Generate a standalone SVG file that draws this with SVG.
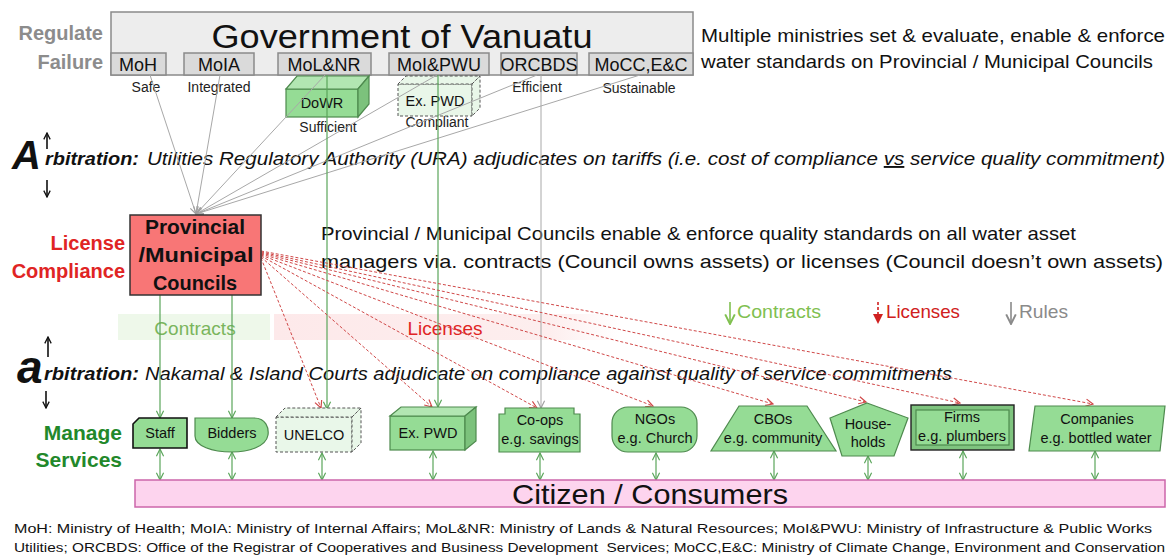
<svg xmlns="http://www.w3.org/2000/svg" width="1174" height="560" viewBox="0 0 1174 560">
<defs>
<style>
text{font-family:'Liberation Sans',Arial,sans-serif;fill:#111}
.gov{fill:#ededed;stroke:#8a8a8a;stroke-width:1.5}
.min{fill:#dadada;stroke:#8a8a8a;stroke-width:1.5}
.mt{font-size:18px;text-anchor:middle}
.lab{font-size:14px;fill:#222;text-anchor:middle}
.node{fill:#95dc95;stroke:#4e8a4e;stroke-width:1.2}
.nodel{fill:#e9f7e9;stroke:#555;stroke-width:1;stroke-dasharray:3 2}
.nt{font-size:14.5px;text-anchor:middle}
.grey{stroke:#a8a8a8;stroke-width:1;fill:none}
.green{stroke:#5aa55a;stroke-width:1.2;fill:none}
.red{stroke:#d04848;stroke-width:1;stroke-dasharray:3 2;fill:none}
.blk{stroke:#111;stroke-width:1.6;fill:none}
.body{font-size:19px}
</style>
<marker id="mg" viewBox="0 0 10 10" refX="9" refY="5" markerWidth="9" markerHeight="9" markerUnits="userSpaceOnUse" orient="auto-start-reverse"><path d="M1,1 L9,5 L1,9" fill="none" stroke="#5aa55a" stroke-width="1.3"/></marker>
<marker id="mgr" viewBox="0 0 10 10" refX="9" refY="5" markerWidth="9" markerHeight="9" markerUnits="userSpaceOnUse" orient="auto-start-reverse"><path d="M1,1 L9,5 L1,9" fill="none" stroke="#a0a0a0" stroke-width="1.3"/></marker>
<marker id="mr" viewBox="0 0 10 10" refX="9" refY="5" markerWidth="9" markerHeight="9" markerUnits="userSpaceOnUse" orient="auto-start-reverse"><path d="M1,1 L9,5 L1,9" fill="none" stroke="#d04848" stroke-width="1.3"/></marker>
<marker id="mk" viewBox="0 0 10 10" refX="9" refY="5" markerWidth="8" markerHeight="8" markerUnits="userSpaceOnUse" orient="auto-start-reverse"><path d="M1,1 L9,5 L1,9" fill="none" stroke="#111" stroke-width="1.6"/></marker>
<marker id="lg" viewBox="0 0 10 10" refX="9" refY="5" markerWidth="12" markerHeight="12" markerUnits="userSpaceOnUse" orient="auto"><path d="M1,1 L9,5 L1,9" fill="none" stroke="#80c050" stroke-width="1.6"/></marker>
<marker id="lgr" viewBox="0 0 10 10" refX="9" refY="5" markerWidth="12" markerHeight="12" markerUnits="userSpaceOnUse" orient="auto"><path d="M1,1 L9,5 L1,9" fill="none" stroke="#8a8a8a" stroke-width="1.6"/></marker>
<marker id="lr" viewBox="0 0 10 10" refX="8" refY="5" markerWidth="10" markerHeight="10" markerUnits="userSpaceOnUse" orient="auto"><path d="M0,0 L10,5 L0,10 Z" fill="#d02020"/></marker>
<linearGradient id="pinkfade" x1="0" x2="1" y1="0" y2="0"><stop offset="0" stop-color="#fde9ea"/><stop offset="0.8" stop-color="#fdeeee"/><stop offset="1" stop-color="#fdeeee" stop-opacity="0"/></linearGradient>
</defs>

<g id="side-labels">
<text x="103" y="40" font-size="20" font-weight="bold" text-anchor="end" style="fill:#8c8c8c">Regulate</text>
<text x="103" y="69" font-size="20" font-weight="bold" text-anchor="end" style="fill:#8c8c8c">Failure</text>
<text x="125" y="250" font-size="20" font-weight="bold" text-anchor="end" style="fill:#e02424">License</text>
<text x="125" y="278" font-size="20" font-weight="bold" text-anchor="end" style="fill:#e02424">Compliance</text>
<text x="122" y="440" font-size="21" font-weight="bold" text-anchor="end" style="fill:#22882a">Manage</text>
<text x="122" y="467" font-size="21" font-weight="bold" text-anchor="end" style="fill:#22882a">Services</text>
</g>

<g id="bands">
<rect x="118" y="314" width="152" height="26" fill="#eef8ea"/>
<rect x="274" y="314" width="345" height="26" fill="url(#pinkfade)"/>
<text x="195" y="335" font-size="19" text-anchor="middle" style="fill:#7ab55c">Contracts</text>
<text x="445" y="335" font-size="19" text-anchor="middle" style="fill:#e02424">Licenses</text>
</g>

<g id="government">
<rect class="gov" x="111" y="12" width="582" height="63"/>
<text x="402" y="48" font-size="33" text-anchor="middle" textLength="381" lengthAdjust="spacingAndGlyphs">Government of Vanuatu</text>
</g>
<g id="moh"><rect class="min" x="111" y="53" width="55" height="22"/><text class="mt" x="138" y="71">MoH</text></g>
<g id="moia"><rect class="min" x="184" y="53" width="70" height="22"/><text class="mt" x="219" y="71">MoIA</text></g>
<g id="molnr"><rect class="min" x="278" y="53" width="93" height="22"/><text class="mt" x="324" y="71">MoL&amp;NR</text></g>
<g id="moipwu"><rect class="min" x="389" y="53" width="100" height="22"/><text class="mt" x="439" y="71">MoI&amp;PWU</text></g>
<g id="orcbds"><rect class="min" x="501" y="53" width="76" height="22"/><text class="mt" x="539" y="71">ORCBDS</text></g>
<g id="mocc"><rect class="min" x="589" y="53" width="104" height="22"/><text class="mt" x="641" y="71">MoCC,E&amp;C</text></g>

<g id="ministry-labels">
<text class="lab" x="146" y="92">Safe</text>
<text class="lab" x="219" y="92">Integrated</text>
<text class="lab" x="328" y="132">Sufficient</text>
<text class="lab" x="437" y="127">Compliant</text>
<text class="lab" x="537" y="92">Efficient</text>
<text class="lab" x="639" y="93">Sustainable</text>
</g>

<g id="dowr">
<rect class="node" x="286" y="89" width="72" height="28"/>
<polygon class="node" points="286,89 297,76 369,76 358,89" style="fill:#b2e6b2"/>
<polygon class="node" points="358,89 369,76 369,104 358,117" style="fill:#7cc27c"/>
<text class="nt" x="322" y="108">DoWR</text>
</g>
<g id="expwd-top">
<rect class="nodel" x="398" y="84" width="74" height="32"/>
<polygon class="nodel" points="398,84 406,76 480,76 472,84"/>
<polygon class="nodel" points="472,84 480,76 480,108 472,116"/>
<text class="nt" x="435" y="106">Ex. PWD</text>
</g>

<g id="notes">
<text class="body" x="701" y="42" textLength="464" lengthAdjust="spacingAndGlyphs">Multiple ministries set &amp; evaluate, enable &amp; enforce</text>
<text class="body" x="701" y="68" textLength="452" lengthAdjust="spacingAndGlyphs">water standards on Provincial / Municipal Councils</text>
<text class="body" x="321" y="240" textLength="755" lengthAdjust="spacingAndGlyphs">Provincial / Municipal Councils enable &amp; enforce quality standards on all water asset</text>
<text class="body" x="321" y="268" textLength="842" lengthAdjust="spacingAndGlyphs">managers via. contracts (Council owns assets) or licenses (Council doesn’t own assets)</text>
</g>

<g id="arbitration-1">
<text x="12" y="169" font-size="40" font-weight="bold" font-style="italic">A</text>
<text x="45" y="165" font-size="19" font-weight="bold" font-style="italic" textLength="94" lengthAdjust="spacingAndGlyphs">rbitration:</text>
<text x="147" y="165" font-size="19" font-style="italic" textLength="1018" lengthAdjust="spacingAndGlyphs">Utilities Regulatory Authority (URA) adjudicates on tariffs (i.e. cost of compliance <tspan text-decoration="underline">vs</tspan> service quality commitment)</text>
<line class="blk" x1="47" y1="149" x2="47" y2="133" marker-end="url(#mk)"/>
<line class="blk" x1="47" y1="180" x2="47" y2="197" marker-end="url(#mk)"/>
</g>

<g id="arbitration-2">
<text x="17" y="383" font-size="46" font-weight="bold" font-style="italic">a</text>
<text x="44" y="380" font-size="19" font-weight="bold" font-style="italic" textLength="95" lengthAdjust="spacingAndGlyphs">rbitration:</text>
<text x="145" y="380" font-size="19" font-style="italic" textLength="807" lengthAdjust="spacingAndGlyphs">Nakamal &amp; Island Courts adjudicate on compliance against quality of service commitments</text>
<line class="blk" x1="48" y1="357" x2="48" y2="337" marker-end="url(#mk)"/>
<line class="blk" x1="46" y1="391" x2="46" y2="408" marker-end="url(#mk)"/>
</g>

<g id="legend">
<line x1="730" y1="302" x2="730" y2="324" stroke="#80c050" stroke-width="1.6" marker-end="url(#lg)"/>
<text x="737" y="318" font-size="19" textLength="84" lengthAdjust="spacingAndGlyphs" style="fill:#80c050">Contracts</text>
<line x1="878" y1="302" x2="878" y2="322" stroke="#d02020" stroke-width="1.6" stroke-dasharray="3 2" marker-end="url(#lr)"/>
<text x="886" y="318" font-size="19" textLength="74" lengthAdjust="spacingAndGlyphs" style="fill:#d02020">Licenses</text>
<line x1="1011" y1="302" x2="1011" y2="324" stroke="#8a8a8a" stroke-width="1.6" marker-end="url(#lgr)"/>
<text x="1019" y="318" font-size="19" textLength="49" lengthAdjust="spacingAndGlyphs" style="fill:#8a8a8a">Rules</text>
</g>

<g id="connectors">
<line class="grey" x1="150" y1="75" x2="196" y2="214" marker-end="url(#mgr)"/>
<line class="grey" x1="220" y1="75" x2="196" y2="214" marker-end="url(#mgr)"/>
<line class="grey" x1="325" y1="75" x2="196" y2="214" marker-end="url(#mgr)"/>
<line class="grey" x1="437" y1="75" x2="196" y2="214" marker-end="url(#mgr)"/>
<line class="grey" x1="537" y1="75" x2="196" y2="214" marker-end="url(#mgr)"/>
<line class="grey" x1="640" y1="75" x2="196" y2="214" marker-end="url(#mgr)"/>
<line class="green" x1="327" y1="75" x2="327" y2="409" marker-end="url(#mg)"/>
<line class="green" x1="438" y1="75" x2="438" y2="407" marker-end="url(#mg)"/>
<line class="grey" x1="541" y1="75" x2="541" y2="408" marker-end="url(#mgr)"/>
<line class="green" x1="160" y1="295" x2="160" y2="418" marker-end="url(#mg)"/>
<line class="green" x1="232" y1="295" x2="232" y2="418" marker-end="url(#mg)"/>
<line class="red" x1="261" y1="258" x2="321" y2="408" marker-end="url(#mr)"/>
<line class="red" x1="261" y1="257" x2="432" y2="407" marker-end="url(#mr)"/>
<line class="red" x1="261" y1="256" x2="537" y2="408" marker-end="url(#mr)"/>
<line class="red" x1="261" y1="255" x2="653" y2="406" marker-end="url(#mr)"/>
<line class="red" x1="261" y1="254" x2="773" y2="404" marker-end="url(#mr)"/>
<line class="red" x1="261" y1="253" x2="866" y2="402" marker-end="url(#mr)"/>
<line class="red" x1="261" y1="252" x2="960" y2="403" marker-end="url(#mr)"/>
<line class="red" x1="261" y1="251" x2="1093" y2="404" marker-end="url(#mr)"/>
<line class="green" x1="160" y1="449" x2="160" y2="480" marker-start="url(#mg)" marker-end="url(#mg)"/>
<line class="green" x1="232" y1="452" x2="232" y2="480" marker-start="url(#mg)" marker-end="url(#mg)"/>
<line class="green" x1="322" y1="453" x2="322" y2="480" marker-start="url(#mg)" marker-end="url(#mg)"/>
<line class="green" x1="433" y1="451" x2="433" y2="480" marker-start="url(#mg)" marker-end="url(#mg)"/>
<line class="green" x1="540" y1="453" x2="540" y2="480" marker-start="url(#mg)" marker-end="url(#mg)"/>
<line class="green" x1="656" y1="453" x2="656" y2="480" marker-start="url(#mg)" marker-end="url(#mg)"/>
<line class="green" x1="774" y1="451" x2="774" y2="480" marker-start="url(#mg)" marker-end="url(#mg)"/>
<line class="green" x1="868" y1="456" x2="868" y2="480" marker-start="url(#mg)" marker-end="url(#mg)"/>
<line class="green" x1="963" y1="451" x2="963" y2="480" marker-start="url(#mg)" marker-end="url(#mg)"/>
<line class="green" x1="1095" y1="451" x2="1095" y2="480" marker-start="url(#mg)" marker-end="url(#mg)"/>
</g>

<g id="council">
<rect x="130" y="215" width="131" height="80" fill="#f87676" stroke="#333" stroke-width="1.5"/>
<text x="195" y="234" font-size="20" font-weight="bold" text-anchor="middle" textLength="100" lengthAdjust="spacingAndGlyphs">Provincial</text>
<text x="196" y="262" font-size="20" font-weight="bold" text-anchor="middle" textLength="115" lengthAdjust="spacingAndGlyphs">/Municipal</text>
<text x="195" y="290" font-size="20" font-weight="bold" text-anchor="middle" textLength="84" lengthAdjust="spacingAndGlyphs">Councils</text>
</g>

<g id="staff"><polygon class="node" points="133,424 139,418 187,418 187,448 133,448" style="stroke:#111;stroke-width:1.6"/><text class="nt" x="160" y="438">Staff</text></g>
<g id="bidders"><path class="node" d="M195,418 H254 C266,418 269,428 268,435 C266,447 248,452 232,452 C212,452 195,446 195,436 Z"/><text class="nt" x="232" y="438">Bidders</text></g>
<g id="unelco">
<rect class="nodel" x="276" y="417" width="76" height="35"/>
<polygon class="nodel" points="276,417 285,408 361,408 352,417"/>
<polygon class="nodel" points="352,417 361,408 361,443 352,452"/>
<text class="nt" x="314" y="440">UNELCO</text>
</g>
<g id="expwd">
<rect class="node" x="390" y="416" width="75" height="34"/>
<polygon class="node" points="390,416 401,407 476,407 465,416" style="fill:#b2e6b2"/>
<polygon class="node" points="465,416 476,407 476,441 465,450" style="fill:#7cc27c"/>
<text class="nt" x="428" y="438">Ex. PWD</text>
</g>
<g id="coops"><path class="node" d="M505,408 H574 V414 H580 V452 H499 V414 H505 Z"/><text class="nt" x="540" y="425">Co-ops</text><text class="nt" x="540" y="444">e.g. savings</text></g>
<g id="ngos"><rect class="node" x="612" y="407" width="85" height="45" rx="16"/><text class="nt" x="655" y="424">NGOs</text><text class="nt" x="655" y="443">e.g. Church</text></g>
<g id="cbos"><polygon class="node" points="739,406 807,406 836,451 711,451"/><text class="nt" x="773" y="424">CBOs</text><text class="nt" x="773" y="443">e.g. community</text></g>
<g id="households"><polygon class="node" points="867,403 908,418 894,456 842,456 830,418"/><text class="nt" x="868" y="429">House-</text><text class="nt" x="868" y="447">holds</text></g>
<g id="firms">
<rect class="node" x="911" y="405" width="103" height="45" style="fill:#7fc47f;stroke:#222;stroke-width:1.4"/>
<rect class="node" x="916" y="410" width="93" height="35" style="stroke:#4e8a4e"/>
<text class="nt" x="962" y="422">Firms</text><text class="nt" x="962" y="441">e.g. plumbers</text>
</g>
<g id="companies"><polygon class="node" points="1035,406 1165,406 1160,451 1029,451"/><text class="nt" x="1097" y="424">Companies</text><text class="nt" x="1096" y="443">e.g. bottled water</text></g>

<g id="citizens">
<rect x="135" y="480" width="1030" height="27" fill="#fdd4ee" stroke="#cc66aa" stroke-width="1.5"/>
<text x="650" y="504" font-size="28" text-anchor="middle" textLength="276" lengthAdjust="spacingAndGlyphs">Citizen / Consumers</text>
</g>

<g id="footnote">
<text x="14" y="533" font-size="13" textLength="1138" lengthAdjust="spacingAndGlyphs">MoH: Ministry of Health; MoIA: Ministry of Internal Affairs; MoL&amp;NR: Ministry of Lands &amp; Natural Resources; MoI&amp;PWU: Ministry of Infrastructure &amp; Public Works</text>
<text x="14" y="552" font-size="13" textLength="1151" lengthAdjust="spacingAndGlyphs">Utilities; ORCBDS: Office of the Registrar of Cooperatives and Business Development&#160; Services; MoCC,E&amp;C: Ministry of Climate Change, Environment and Conservation</text>
</g>
</svg>
